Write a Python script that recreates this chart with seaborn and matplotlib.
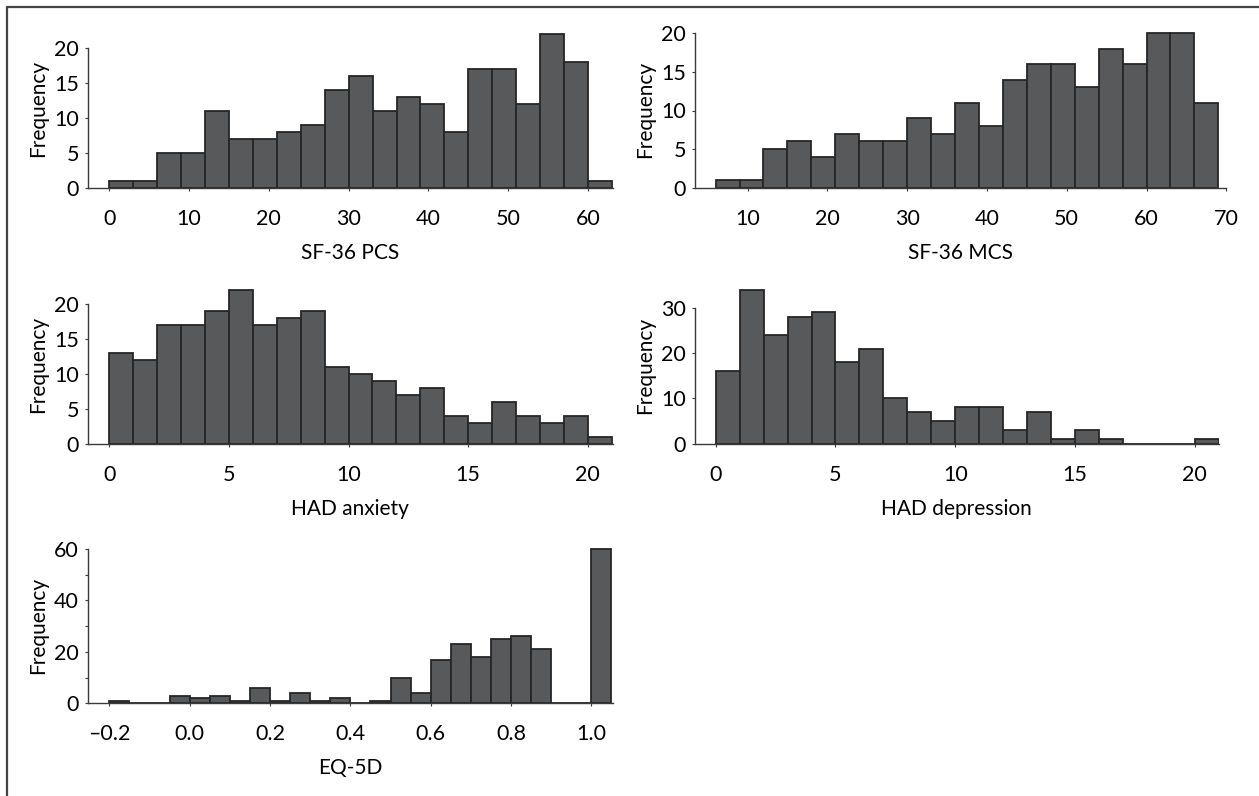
import numpy as np
import pandas as pd
import matplotlib
matplotlib.use("Agg")
import matplotlib.pyplot as plt
import seaborn as sns
from matplotlib.lines import Line2D
from matplotlib.ticker import FixedLocator

# ---------------- data ----------------
pcs_start, pcs_width = 0, 3
pcs_counts = [1, 1, 5, 5, 11, 7, 7, 8, 9, 14, 16, 11, 13, 12, 8, 17, 17, 12, 22, 18, 1]
pcs_xticks = [0, 10, 20, 30, 40, 50, 60]
pcs_yticks = [0, 5, 10, 15, 20]

mcs_start, mcs_width = 6, 3
mcs_counts = [1, 1, 5, 6, 4, 7, 6, 6, 9, 7, 11, 8, 14, 16, 16, 13, 18, 16, 20, 20, 11]
mcs_xticks = [10, 20, 30, 40, 50, 60, 70]
mcs_yticks = [0, 5, 10, 15, 20]

anx_start, anx_width = 0, 1
anx_counts = [13, 12, 17, 17, 19, 22, 17, 18, 19, 11, 10, 9, 7, 8, 4, 3, 6, 4, 3, 4, 1]
anx_xticks = [0, 5, 10, 15, 20]
anx_yticks = [0, 5, 10, 15, 20]

dep_start, dep_width = 0, 1
dep_counts = [16, 34, 24, 28, 29, 18, 21, 10, 7, 5, 8, 8, 3, 7, 1, 3, 1, 0, 0, 0, 1]
dep_xticks = [0, 5, 10, 15, 20]
dep_yticks = [0, 10, 20, 30]

eq_start, eq_width = -0.2, 0.05
eq_counts = [1, 0, 0, 3, 2, 3, 1, 6, 1, 4, 1, 2, 0, 1, 10, 4, 17, 23, 18, 25, 26, 21, 0, 0, 60]
eq_xticks = [-0.2, 0.0, 0.2, 0.4, 0.6, 0.8, 1.0]
eq_xticklabels = ["\u20130.2", "0.0", "0.2", "0.4", "0.6", "0.8", "1.0"]
eq_yticks = [0, 20, 40, 60]
eq_yminor = [10, 30, 50]

xlabels = ["SF-36 PCS", "SF-36 MCS", "HAD anxiety", "HAD depression", "EQ-5D"]
ylabel = "Frequency"

# ---------------- style ----------------
sns.set_style("white")
plt.rcParams["font.family"] = ["Lato", "DejaVu Sans"]
plt.rcParams["axes.unicode_minus"] = False

W, H = 1259, 796
fig = plt.figure(figsize=(W / 100, H / 100), dpi=100)
fig.patch.set_facecolor("white")

FILL = "#58595b"
EDGE = "#262626"
SPINE = "#3a3a3a"
TICK_FS = 15.5
LABEL_FS = 15


def place(x0, x1, y0px, ppu, ymax):
    return fig.add_axes([x0 / W, 1 - y0px / H, (x1 - x0) / W, ymax * ppu / H])


def panel(ax, start, width, counts, xlim, ymax, xticks, yticks, xlabel,
          xticklabels=None, yminor=None):
    n = len(counts)
    edges = [float(start + width * i) for i in range(n + 1)]
    centers = [(edges[i] + edges[i + 1]) / 2 for i in range(n)]
    df = pd.DataFrame({"x": centers, "w": [float(c) for c in counts]})
    sns.histplot(data=df, x="x", weights="w", bins=edges, ax=ax,
                 color=FILL, edgecolor=EDGE, linewidth=1.3, alpha=1.0)
    ax.set_xlim(*xlim)
    ax.set_ylim(0, ymax)
    for s in ["top", "right"]:
        ax.spines[s].set_visible(False)
    for s in ["left", "bottom"]:
        ax.spines[s].set_color(SPINE)
        ax.spines[s].set_linewidth(1.0)
    ax.spines["left"].set_bounds(0, yticks[-1])
    ax.set_xticks(xticks)
    if xticklabels is not None:
        ax.set_xticklabels(xticklabels)
    else:
        ax.set_xticklabels([str(t) for t in xticks])
    ax.set_yticks(yticks)
    ax.set_yticklabels([str(t) for t in yticks])
    if yminor is not None:
        ax.yaxis.set_minor_locator(FixedLocator(yminor))
        ax.tick_params(axis="y", which="minor", length=2.2, width=0.8,
                       color=SPINE, left=True)
    ax.tick_params(axis="x", which="major", direction="out", length=2.2,
                   width=0.8, color=SPINE, pad=13, labelsize=TICK_FS,
                   labelcolor="black", bottom=True)
    ax.tick_params(axis="y", which="major", direction="out", length=2.2,
                   width=0.8, color=SPINE, pad=4, labelsize=TICK_FS,
                   labelcolor="black", left=True)
    ax.set_xlabel(xlabel, fontsize=LABEL_FS, labelpad=10, color="black")
    ax.set_ylabel(ylabel, fontsize=LABEL_FS, labelpad=4, color="black")
    ax.patch.set_alpha(0)


ax1 = place(87.6, 612.7, 187.7, 7.0, 22.6)
panel(ax1, pcs_start, pcs_width, pcs_counts, (-2.72, 63.1), 22.6,
      pcs_xticks, pcs_yticks, xlabels[0])

ax2 = place(694.6, 1226.3, 187.7, 7.72, 20.3)
panel(ax2, mcs_start, mcs_width, mcs_counts, (3.37, 70.0), 20.3,
      mcs_xticks, mcs_yticks, xlabels[1])

ax3 = place(87.6, 612.7, 443.7, 7.0, 22.6)
panel(ax3, anx_start, anx_width, anx_counts, (-0.907, 21.04), 22.6,
      anx_xticks, anx_yticks, xlabels[2])

ax4 = place(694.6, 1218.5, 443.7, 4.533, 34.6)
panel(ax4, dep_start, dep_width, dep_counts, (-0.885, 21.0), 34.6,
      dep_xticks, dep_yticks, xlabels[3])

ax5 = place(87.6, 612.7, 703.3, 2.572, 60.6)
panel(ax5, eq_start, eq_width, eq_counts, (-0.254, 1.053), 60.6,
      eq_xticks, eq_yticks, xlabels[4], xticklabels=eq_xticklabels,
      yminor=eq_yminor)

# frame lines (top and left) around the figure
fig.add_artist(Line2D([6.5 / W, 6.5 / W], [0, 1 - 6.7 / H],
                      transform=fig.transFigure, color="#444444", lw=1.6))
fig.add_artist(Line2D([6.5 / W, 1.0], [1 - 6.7 / H, 1 - 6.7 / H],
                      transform=fig.transFigure, color="#444444", lw=1.6))

fig.savefig("out.png", dpi=100, facecolor="white")
